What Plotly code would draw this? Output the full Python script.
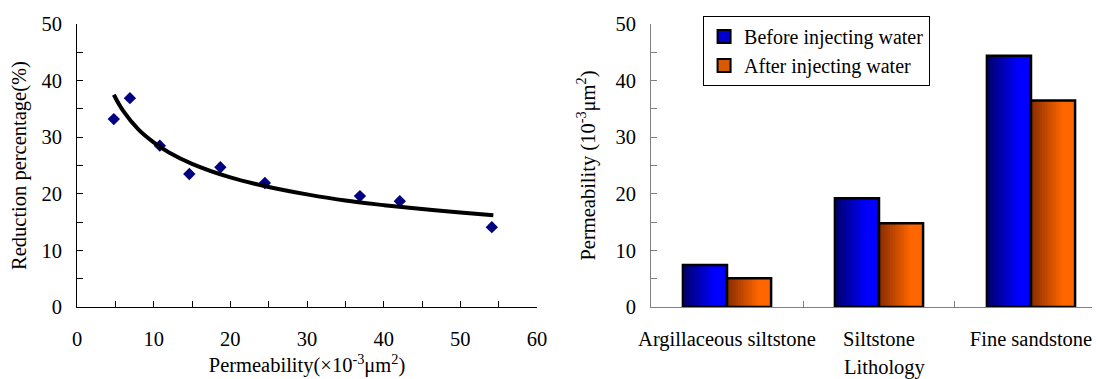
import plotly.graph_objects as go

# ---- data ----
perm = [4.8, 6.9, 10.8, 14.65, 18.7, 24.5, 36.9, 42.1, 54.1]
reduction = [33.2, 36.9, 28.5, 23.5, 24.7, 21.9, 19.6, 18.7, 14.1]
fit_x = [4.8, 6, 8, 10, 12, 15, 20, 25, 30, 35, 40, 45, 50, 54.3]
fit_y = [37.5, 34.7, 31.4, 29.1, 27.3, 25.3, 22.9, 21.2, 19.9, 18.8, 18.0, 17.3, 16.7, 16.2]

lithology = ["Argillaceous siltstone", "Siltstone", "Fine sandstone"]
before = [7.4, 19.2, 44.4]
after = [5.1, 14.8, 36.5]
series_names = ["Before injecting water", "After injecting water"]

FONT = "Liberation Serif"
FS = 20.5
fig = go.Figure()

# ---- left: scatter + trend ----
fig.add_trace(go.Scatter(x=perm, y=reduction, mode="markers",
                         marker=dict(symbol="diamond", size=9.5, color="#000080"),
                         showlegend=False, xaxis="x", yaxis="y"))
fig.add_trace(go.Scatter(x=fit_x, y=fit_y, mode="lines", line=dict(color="black", width=4, shape="spline"),
                         showlegend=False, xaxis="x", yaxis="y"))

# ---- right: grouped bars with gradient (strips) ----
BW = 0.29
N = 16
def grad(c0, c1, t, knee=0.72):
    f = min(1.0, t / knee)
    return "rgb(%d,%d,%d)" % tuple(round(a + (b - a) * f) for a, b in zip(c0, c1))

specs = [
    (series_names[0], before, -BW, (0, 0, 105), (0, 0, 255), "#0000d0"),
    (series_names[1], after, 0.0, (135, 45, 0), (255, 102, 0), "#d85a00"),
]
for name, vals, off, c0, c1, cmid in specs:
    w = BW / N
    for i in range(N):
        ww = w * 1.4 if i < N - 1 else w
        fig.add_trace(go.Bar(x=lithology, y=vals, width=ww, offset=off + i * w,
                             marker=dict(color=grad(c0, c1, (i + 0.5) / N), line=dict(width=0)),
                             showlegend=False, hoverinfo="skip", xaxis="x2", yaxis="y2"))
    fig.add_trace(go.Bar(x=lithology, y=vals, width=BW, offset=off,
                         marker=dict(color="rgba(0,0,0,0)", line=dict(color="black", width=2.5)),
                         showlegend=False, xaxis="x2", yaxis="y2"))
for name, vals, off, c0, c1, cmid in specs:
    fig.add_trace(go.Scatter(x=[None], y=[None], mode="markers", name=name,
                             marker=dict(symbol="square", size=13, color=cmid,
                                         line=dict(color="black", width=2)),
                             xaxis="x2", yaxis="y2"))

axis_common = dict(showgrid=False, zeroline=False, showline=True, ticks="inside", ticklen=6,
                   automargin=False, tickangle=0,
                   tickfont=dict(family=FONT, size=FS, color="black"))

fig.update_layout(
    width=1100, height=379,
    margin=dict(l=69, r=8, t=14, b=80),
    plot_bgcolor="white", paper_bgcolor="white",
    font=dict(family=FONT, size=FS, color="black"),
    barmode="overlay",
    xaxis=dict(domain=[0, 0.4497], range=[0, 60], dtick=10, linecolor="black", tickcolor="black",
               minor=dict(dtick=5, ticks="inside", ticklen=6, tickcolor="black"),
               ticklabelstandoff=13,
               title=dict(text="Permeability(×10<sup>-3</sup>μm<sup>2</sup>)", standoff=9,
                          font=dict(family=FONT, size=FS)),
               anchor="y", **axis_common),
    yaxis=dict(domain=[0, 1], range=[0, 50], dtick=10, linecolor="black", tickcolor="black",
               minor=dict(dtick=5, ticks="inside", ticklen=6, tickcolor="black"),
               ticklabelstandoff=10,
               title=dict(text="Reduction percentage(%)", standoff=10, font=dict(family=FONT, size=FS)),
               anchor="x", **axis_common),
    xaxis2=dict(domain=[0.5611, 1], type="category", range=[-0.5, 2.454], tickson="boundaries",
                linecolor="#808080", tickcolor="#808080", ticklabelstandoff=13,
                anchor="y2", **axis_common),
    yaxis2=dict(domain=[0, 1], range=[0, 50], dtick=10, linecolor="#808080", tickcolor="#808080",
                minor=dict(dtick=5, ticks="inside", ticklen=6, tickcolor="#808080"),
                ticklabelstandoff=10,
                title=dict(text="Permeability (10<sup>-3</sup>μm<sup>2</sup>)", standoff=14,
                           font=dict(family=FONT, size=FS)),
                anchor="x2", **axis_common),
    legend=dict(x=0.612, y=1.028, xanchor="left", yanchor="top", bordercolor="black", borderwidth=1,
                bgcolor="white", font=dict(family=FONT, size=20), tracegroupgap=0, itemwidth=30,
                entrywidth=178, entrywidthmode="pixels"),
    annotations=[dict(text="Lithology", xref="paper", yref="paper",
                      x=(877 - 69) / 1023, y=-61 / 285, xanchor="center", yanchor="middle",
                      showarrow=False, font=dict(family=FONT, size=FS, color="black"))],
)

fig.write_html("out.html")
